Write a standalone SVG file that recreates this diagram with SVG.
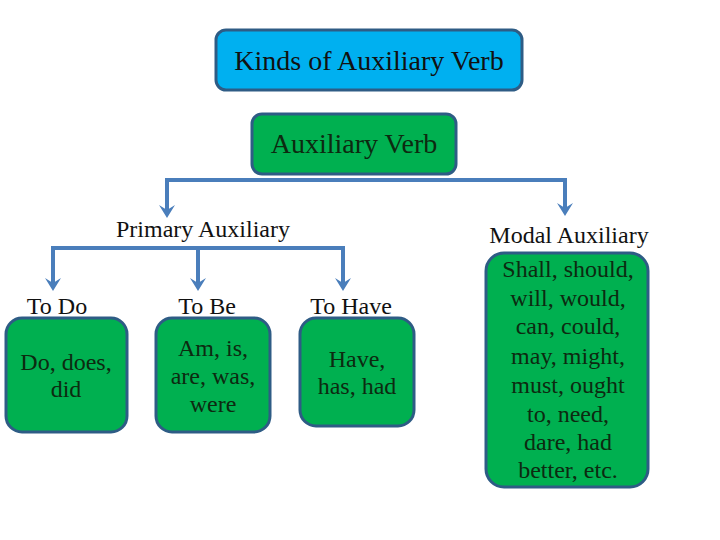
<svg xmlns="http://www.w3.org/2000/svg" width="720" height="540" viewBox="0 0 720 540">
<style>
.box{stroke:#2E5C85;stroke-width:3}
.blue{fill:#00B0F0}
.green{fill:#00B050}
text{font-family:"Liberation Serif","Times New Roman",serif;fill:#111;text-anchor:middle;font-size:24px}
.h{font-size:28px}
.in{fill:#0d2a10}
.c{fill:none;stroke:#4A7EBB;stroke-width:4}
.ah{fill:#4A7EBB}
</style>
<rect width="720" height="540" fill="#fff"/>
<g id="connectors">
<path class="c" d="M167,214 V180 H565 V212"/>
<path class="c" d="M53,287 V248 H343 V287"/>
<path class="c" d="M198,248 V287"/>
<path class="ah" d="M159,205 L167,210 L175,205 L167,218 Z M557,203 L565,208 L573,203 L565,216 Z M45,278 L53,283 L61,278 L53,291 Z M190,278 L198,283 L206,278 L198,291 Z M335,278 L343,283 L351,278 L343,291 Z"/>
</g>
<g id="title">
<rect class="box blue" x="216" y="30" width="306" height="60" rx="10"/>
<text class="h" x="369" y="70">Kinds of Auxiliary Verb</text>
</g>
<g id="aux">
<rect class="box green" x="252" y="114" width="204" height="60" rx="10"/>
<text class="h in" x="354" y="153">Auxiliary Verb</text>
</g>
<g id="primary">
<text x="203" y="237">Primary Auxiliary</text>
</g>
<g id="modal-label">
<text x="569" y="243">Modal Auxiliary</text>
</g>
<g id="todo">
<text x="57" y="314">To Do</text>
<rect class="box green" x="6" y="318" width="121" height="114" rx="16"/>
<text class="in" x="66" y="370">Do, does,</text>
<text class="in" x="66" y="397">did</text>
</g>
<g id="tobe">
<text x="207" y="314">To Be</text>
<rect class="box green" x="156" y="318" width="114" height="114" rx="16"/>
<text class="in" x="213" y="356">Am, is,</text>
<text class="in" x="213" y="384">are, was,</text>
<text class="in" x="213" y="412">were</text>
</g>
<g id="tohave">
<text x="351" y="314">To Have</text>
<rect class="box green" x="300" y="318" width="114" height="108" rx="16"/>
<text class="in" x="357" y="367">Have,</text>
<text class="in" x="357" y="394">has, had</text>
</g>
<g id="modal">
<rect class="box green" x="486" y="253" width="162" height="234" rx="18"/>
<text class="in" x="568" y="277">Shall, should,</text>
<text class="in" x="568" y="306">will, would,</text>
<text class="in" x="568" y="334">can, could,</text>
<text class="in" x="568" y="364">may, might,</text>
<text class="in" x="568" y="393">must, ought</text>
<text class="in" x="568" y="422">to, need,</text>
<text class="in" x="568" y="450">dare, had</text>
<text class="in" x="568" y="478">better, etc.</text>
</g>
</svg>
